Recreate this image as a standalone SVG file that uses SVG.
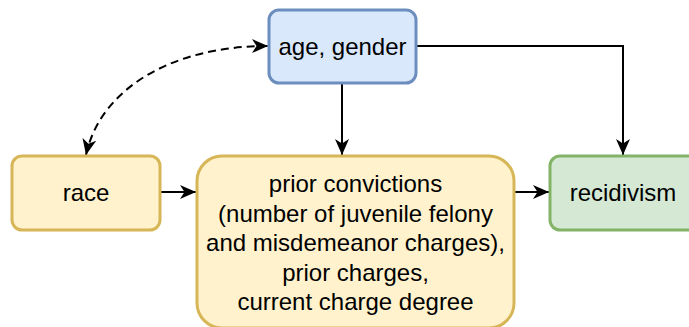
<svg xmlns="http://www.w3.org/2000/svg" width="689" height="327" viewBox="0 0 689 327">
<defs>
<style>
.t{font-family:"Liberation Sans",Arial,sans-serif;font-size:24px;fill:#000;text-anchor:middle}
.blue{fill:#dae8fc;stroke:#6c8ebf;stroke-width:3}
.yel{fill:#fff2cc;stroke:#d6b656;stroke-width:3}
.grn{fill:#d5e8d4;stroke:#82b366;stroke-width:3}
.e{fill:none;stroke:#000;stroke-width:2}
</style>
<marker id="arr" viewBox="0 0 16 16" refX="16" refY="8" markerWidth="16" markerHeight="16" markerUnits="userSpaceOnUse" orient="auto-start-reverse">
<path d="M0 1 L16 8 L0 15 L4.5 8 Z" fill="#000"/>
</marker>
</defs>
<g id="connectors">
<path class="e" d="M342 84 L342 155" marker-end="url(#arr)"/>
<path class="e" d="M416 46 L623 46 L623 155" marker-end="url(#arr)"/>
<path class="e" d="M160 192 L196 192" marker-end="url(#arr)"/>
<path class="e" d="M514 192 L549 192" marker-end="url(#arr)"/>
<path class="e" d="M86 155 C 100 90, 170 46, 268 46" stroke-dasharray="8 5" marker-start="url(#arr)" marker-end="url(#arr)"/>
</g>
<g id="age-gender">
<rect class="blue" x="269" y="10" width="147" height="73" rx="10"/>
<text class="t" x="342.5" y="55">age, gender</text>
</g>
<g id="race">
<rect class="yel" x="12" y="156" width="148" height="74" rx="10"/>
<text class="t" x="86" y="201">race</text>
</g>
<g id="prior">
<rect class="yel" x="197" y="156" width="317" height="172" rx="25"/>
<text class="t" x="355.5" y="192">prior convictions</text>
<text class="t" x="355.5" y="222">(number of juvenile felony</text>
<text class="t" x="355.5" y="251">and misdemeanor charges),</text>
<text class="t" x="355.5" y="281">prior charges,</text>
<text class="t" x="355.5" y="310">current charge degree</text>
</g>
<g id="recidivism">
<rect class="grn" x="550" y="156" width="150" height="74" rx="10"/>
<text class="t" x="623" y="201">recidivism</text>
</g>
</svg>
